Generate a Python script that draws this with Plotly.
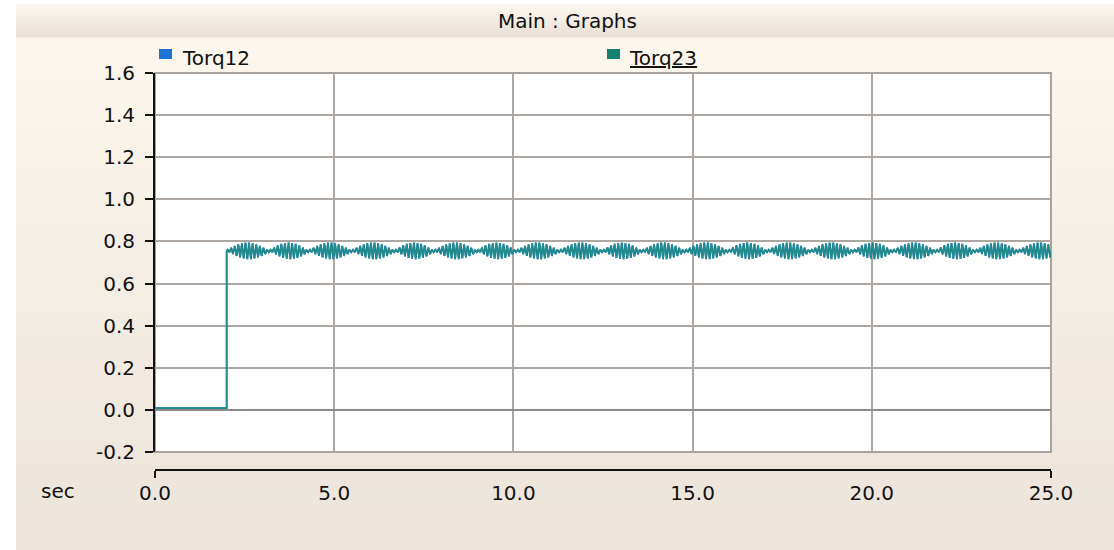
import plotly.graph_objects as go

# ---- canvas geometry (pixels) ----
W, H = 1114, 550
PLOT_L, PLOT_R = 155, 1051
PLOT_T, PLOT_B = 73, 452
AXIS_Y = 470          # separate time axis sits below the plot box

# ---- signal data ----
t_end = 25.0
step_time = 2.0
pre_step_level = 0.008
settled_level = 0.755
ripple_period = 0.1
# ripple half-amplitude for each cycle, grouped by beat lobe
ripple_amp = [
    [0.006, 0.015, 0.024, 0.031, 0.036, 0.039, 0.039, 0.036, 0.031, 0.024, 0.015, 0.006],
    [0.006, 0.016, 0.026, 0.033, 0.037, 0.039, 0.037, 0.033, 0.026, 0.016, 0.006],
    [0.006, 0.015, 0.024, 0.031, 0.036, 0.039, 0.039, 0.036, 0.031, 0.024, 0.015, 0.006],
    [0.006, 0.015, 0.024, 0.031, 0.036, 0.039, 0.039, 0.036, 0.031, 0.024, 0.015, 0.006],
    [0.006, 0.016, 0.026, 0.033, 0.037, 0.039, 0.037, 0.033, 0.026, 0.016, 0.006],
    [0.006, 0.015, 0.024, 0.031, 0.036, 0.039, 0.039, 0.036, 0.031, 0.024, 0.015, 0.006],
    [0.006, 0.016, 0.026, 0.033, 0.037, 0.039, 0.037, 0.033, 0.026, 0.016, 0.006],
    [0.006, 0.015, 0.024, 0.031, 0.036, 0.039, 0.039, 0.036, 0.031, 0.024, 0.015, 0.006],
    [0.006, 0.015, 0.024, 0.031, 0.036, 0.039, 0.039, 0.036, 0.031, 0.024, 0.015, 0.006],
    [0.006, 0.016, 0.026, 0.033, 0.037, 0.039, 0.037, 0.033, 0.026, 0.016, 0.006],
    [0.006, 0.015, 0.024, 0.031, 0.036, 0.039, 0.039, 0.036, 0.031, 0.024, 0.015, 0.006],
    [0.006, 0.015, 0.024, 0.031, 0.036, 0.039, 0.039, 0.036, 0.031, 0.024, 0.015, 0.006],
    [0.006, 0.016, 0.026, 0.033, 0.037, 0.039, 0.037, 0.033, 0.026, 0.016, 0.006],
    [0.006, 0.015, 0.024, 0.031, 0.036, 0.039, 0.039, 0.036, 0.031, 0.024, 0.015, 0.006],
    [0.006, 0.015, 0.024, 0.031, 0.036, 0.039, 0.039, 0.036, 0.031, 0.024, 0.015, 0.006],
    [0.006, 0.016, 0.026, 0.033, 0.037, 0.039, 0.037, 0.033, 0.026, 0.016, 0.006],
    [0.006, 0.015, 0.024, 0.031, 0.036, 0.039, 0.039, 0.036, 0.031, 0.024, 0.015, 0.006],
    [0.006, 0.016, 0.026, 0.033, 0.037, 0.039, 0.037, 0.033, 0.026, 0.016, 0.006],
    [0.006, 0.015, 0.024, 0.031, 0.036, 0.039, 0.039, 0.036, 0.031, 0.024, 0.015, 0.006],
    [0.006, 0.015, 0.024, 0.031, 0.036, 0.039, 0.039, 0.036, 0.031],
]

x_ticks = [0, 5, 10, 15, 20, 25]
x_tick_labels = ["0.0", "5.0", "10.0", "15.0", "20.0", "25.0"]
y_ticks = [-0.2, 0.0, 0.2, 0.4, 0.6, 0.8, 1.0, 1.2, 1.4, 1.6]
y_tick_labels = ["-0.2", "0.0", "0.2", "0.4", "0.6", "0.8", "1.0", "1.2", "1.4", "1.6"]

series_names = ["Torq12", "Torq23"]
line_colors = ["#1e74d4", "#218a8a"]
legend_colors = ["#1e74d4", "#16806e"]

title_text = "Main : Graphs"
axis_unit = "sec"
FONT = "DejaVu Sans"

# ---- build the torque trace: flat start, step, then beating ripple ----
t_vals = [0.0, step_time, step_time]
y_vals = [pre_step_level, pre_step_level, settled_level]
k = 0
for lobe in ripple_amp:
    for a in lobe:
        t0 = step_time + k * ripple_period
        t_vals += [t0 + 0.25 * ripple_period, t0 + 0.75 * ripple_period]
        y_vals += [settled_level + a, settled_level - a]
        k += 1
t_vals.append(t_end)
y_vals.append(settled_level)


def px(xp):
    return (xp - PLOT_L) / (PLOT_R - PLOT_L)


def py(yp):
    return (AXIS_Y - yp) / (AXIS_Y - PLOT_T)


def mix(c0, c1, f):
    return "rgb(%d,%d,%d)" % tuple(round(a + (b - a) * f) for a, b in zip(c0, c1))


fig = go.Figure()

# Torq12 first, Torq23 drawn over it
for name, col in zip(series_names, line_colors):
    fig.add_trace(go.Scatter(
        x=t_vals, y=y_vals, mode="lines", name=name,
        line=dict(color=col, width=1.7), hoverinfo="skip",
        xaxis="x", yaxis="y",
    ))

# carriers for the detached time axis and its end caps
fig.add_trace(go.Scatter(x=[0, t_end], y=[None, None], xaxis="x2", yaxis="y",
                         showlegend=False, hoverinfo="skip"))
fig.add_trace(go.Scatter(x=[0, t_end], y=[None, None], xaxis="x3", yaxis="y",
                         showlegend=False, hoverinfo="skip"))

shapes = []
# panel background gradient
top_c, bot_c = (252, 246, 237), (236, 228, 219)
n = 24
y0p, y1p = 37, H
for i in range(n):
    a = y0p + (y1p - y0p) * i / n
    b = y0p + (y1p - y0p) * (i + 1) / n
    shapes.append(dict(type="rect", xref="paper", yref="paper", layer="below",
                       x0=px(16), x1=px(W), y0=py(b + 1), y1=py(a),
                       fillcolor=mix(top_c, bot_c, i / (n - 1)), line=dict(width=0)))
# title band gradient
tb0, tb1 = (251, 246, 239), (234, 226, 216)
n = 10
for i in range(n):
    a = 4 + 33 * i / n
    b = 4 + 33 * (i + 1) / n
    shapes.append(dict(type="rect", xref="paper", yref="paper", layer="below",
                       x0=px(16), x1=px(W), y0=py(b + 0.5), y1=py(a),
                       fillcolor=mix(tb0, tb1, i / (n - 1)), line=dict(width=0)))
# plot box
shapes.append(dict(type="rect", xref="paper", yref="paper", layer="below",
                   x0=0, x1=1, y0=py(PLOT_B), y1=1,
                   fillcolor="white", line=dict(color="#a8a39e", width=2)))
# legend swatches
for col, xl in zip(legend_colors, [159, 607]):
    shapes.append(dict(type="rect", xref="paper", yref="paper", layer="above",
                       x0=px(xl), x1=px(xl + 13), y0=py(59), y1=py(49),
                       fillcolor=col, line=dict(width=0)))

annotations = [
    dict(text=title_text, x=px(567), y=py(21), xref="paper", yref="paper",
         xanchor="center", yanchor="middle", showarrow=False,
         font=dict(family=FONT, size=20, color="#111111")),
    dict(text=series_names[0], x=px(180), y=py(58), xref="paper", yref="paper",
         xanchor="left", yanchor="middle", showarrow=False,
         font=dict(family=FONT, size=20, color="#111111")),
    dict(text="<u>%s</u>" % series_names[1], x=px(627), y=py(58), xref="paper", yref="paper",
         xanchor="left", yanchor="middle", showarrow=False,
         font=dict(family=FONT, size=20, color="#111111")),
    dict(text=axis_unit, x=px(58), y=py(491), xref="paper", yref="paper",
         xanchor="center", yanchor="middle", showarrow=False,
         font=dict(family=FONT, size=20, color="#111111")),
]

grid_c = "#aca7a2"
fig.update_layout(
    width=W, height=H,
    margin=dict(l=PLOT_L, r=W - PLOT_R, t=PLOT_T, b=H - AXIS_Y, pad=0),
    paper_bgcolor="white",
    plot_bgcolor="rgba(0,0,0,0)",
    showlegend=False,
    font=dict(family=FONT, size=20, color="#111111"),
    shapes=shapes,
    annotations=annotations,
    xaxis=dict(range=[0, t_end], tickvals=x_ticks, showticklabels=False, ticks="",
               showgrid=True, gridcolor=grid_c, gridwidth=2, zeroline=False,
               showline=False, anchor="y"),
    xaxis2=dict(range=[0, t_end], overlaying="x", anchor="free", position=0,
                tickvals=x_ticks, ticktext=x_tick_labels, ticks="",
                showgrid=False, zeroline=False, showline=True,
                linecolor="#111111", linewidth=2, ticklabelstandoff=5,
                tickfont=dict(family=FONT, size=20, color="#111111")),
    xaxis3=dict(range=[0, t_end], overlaying="x", anchor="free", position=0,
                tickvals=[0, t_end], showticklabels=False, ticks="outside",
                ticklen=7, tickwidth=2, tickcolor="#111111",
                showgrid=False, zeroline=False, showline=False),
    yaxis=dict(range=[-0.2, 1.6], domain=[(AXIS_Y - PLOT_B) / (AXIS_Y - PLOT_T), 1],
               tickvals=y_ticks, ticktext=y_tick_labels,
               ticks="outside", ticklen=8, tickwidth=2, tickcolor="#111111",
               showline=True, linecolor="#111111", linewidth=2,
               showgrid=True, gridcolor=grid_c, gridwidth=2,
               zeroline=True, zerolinecolor="#8c8c8c", zerolinewidth=2,
               ticklabelstandoff=6,
               tickfont=dict(family=FONT, size=20, color="#111111")),
)

fig.write_html("out.html")
